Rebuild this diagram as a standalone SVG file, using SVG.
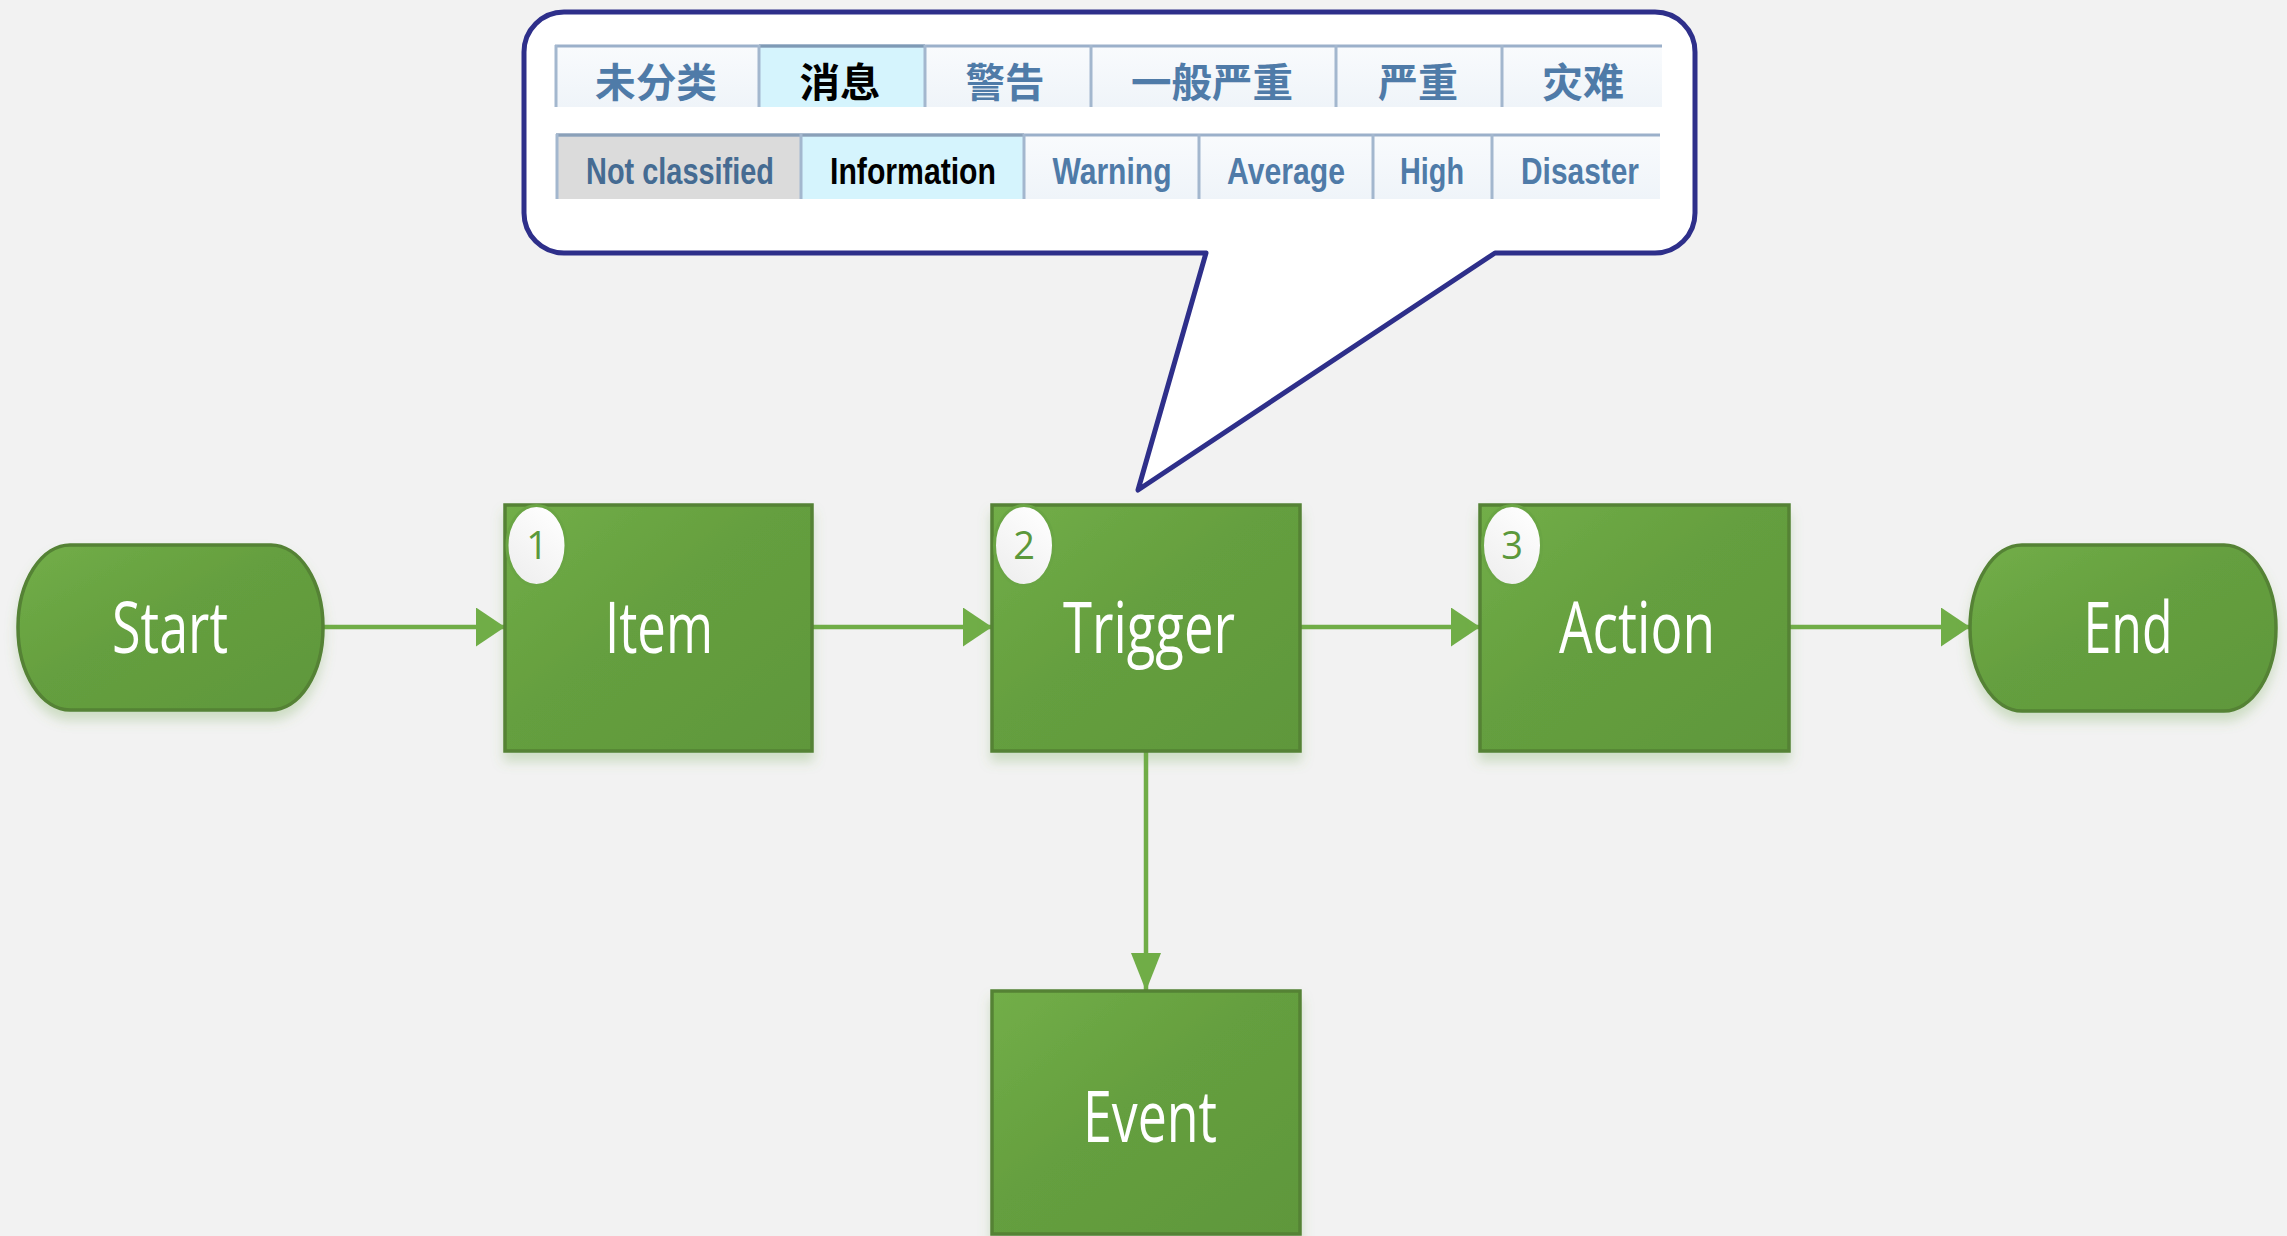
<svg xmlns="http://www.w3.org/2000/svg" width="2287" height="1236" viewBox="0 0 2287 1236">
<defs>
<linearGradient id="gNode" x1="0" y1="0" x2="1" y2="1">
<stop offset="0" stop-color="#72AE48"/>
<stop offset="0.45" stop-color="#659F3F"/>
<stop offset="1" stop-color="#5F973B"/>
</linearGradient>
<linearGradient id="gBadge" x1="0.8" y1="0" x2="0.2" y2="1">
<stop offset="0" stop-color="#FFFFFF"/>
<stop offset="1" stop-color="#EEEEEE"/>
</linearGradient>
<linearGradient id="gTab" x1="0" y1="0" x2="0" y2="1">
<stop offset="0" stop-color="#F9FBFD"/>
<stop offset="1" stop-color="#EFF4F9"/>
</linearGradient>
<filter id="shadow" x="-10%" y="-10%" width="120%" height="130%">
<feDropShadow dx="0" dy="9" stdDeviation="6" flood-color="#6FA64A" flood-opacity="0.28"/>
</filter>
<marker id="arrH" markerUnits="userSpaceOnUse" markerWidth="29" markerHeight="39" refX="29" refY="19.5" orient="auto">
<path d="M0,0 L29,19.5 L0,39 Z" fill="#70AD47"/>
</marker>
<marker id="arrV" markerUnits="userSpaceOnUse" markerWidth="38" markerHeight="30" refX="38" refY="15" orient="auto">
<path d="M0,0 L38,15 L0,30 Z" fill="#70AD47"/>
</marker>
<style>
.node{fill:url(#gNode);stroke:#548235;stroke-width:3.5;filter:url(#shadow)}
.lbl{font-family:"Open Sans","Noto Sans","Liberation Sans",sans-serif;font-weight:400;font-size:72px;fill:#FFFFFF;text-anchor:middle}
.badge{fill:url(#gBadge);stroke:#6AA544;stroke-width:3}
.num{font-family:"Open Sans","Liberation Sans",sans-serif;font-size:38px;fill:#5B983B;text-anchor:middle}
.conn{fill:none;stroke:#70AD47;stroke-width:4.5}
.tab{fill:url(#gTab)}
.sep{stroke:#A3B7CE;stroke-width:3}
.top{stroke:#9BB0CA;stroke-width:3}
.cjk{font-family:"Liberation Sans","Noto Sans CJK SC",sans-serif;font-weight:bold;font-size:40px;fill:#4F7BA8;text-anchor:middle}
.en{font-family:"Liberation Sans",sans-serif;font-weight:bold;font-size:36px;fill:#4F7BA8;text-anchor:middle}
</style>
</defs>
<rect x="0" y="0" width="2287" height="1236" fill="#F2F2F2"/>

<g id="callout">
<path d="M564,12 H1655 A40,40 0 0 1 1695,52 V213 A40,40 0 0 1 1655,253 H1495 L1138,490 L1206,253 H564 A40,40 0 0 1 524,213 V52 A40,40 0 0 1 564,12 Z" fill="#FFFFFF" stroke="#2E2F8A" stroke-width="5" stroke-linejoin="round"/>
<g id="tabs-cn">
<rect class="tab" x="555" y="45" width="1107" height="62"/>
<rect x="759" y="45" width="166" height="62" fill="#D5F4FD"/>
<line class="top" x1="555" y1="46" x2="1662" y2="46"/>
<line x1="759" y1="46" x2="925" y2="46" stroke="#7E9AB5" stroke-width="3"/>
<line class="sep" x1="556" y1="45" x2="556" y2="107"/>
<line class="sep" x1="759" y1="45" x2="759" y2="107"/>
<line class="sep" x1="925" y1="45" x2="925" y2="107"/>
<line class="sep" x1="1091" y1="45" x2="1091" y2="107"/>
<line class="sep" x1="1336" y1="45" x2="1336" y2="107"/>
<line class="sep" x1="1502" y1="45" x2="1502" y2="107"/>
<text class="cjk" x="656" y="97" textLength="122" lengthAdjust="spacingAndGlyphs">未分类</text>
<text class="cjk" x="840" y="97" style="fill:#000000" textLength="81" lengthAdjust="spacingAndGlyphs">消息</text>
<text class="cjk" x="1005" y="97" textLength="79" lengthAdjust="spacingAndGlyphs">警告</text>
<text class="cjk" x="1212" y="97" textLength="162" lengthAdjust="spacingAndGlyphs">一般严重</text>
<text class="cjk" x="1418" y="97" textLength="80" lengthAdjust="spacingAndGlyphs">严重</text>
<text class="cjk" x="1583" y="97" textLength="82" lengthAdjust="spacingAndGlyphs">灾难</text>
</g>
<g id="tabs-en">
<rect class="tab" x="556" y="134" width="1104" height="65"/>
<rect x="556" y="134" width="245" height="65" fill="#DBDBDB"/>
<rect x="801" y="134" width="223" height="65" fill="#D5F4FD"/>
<line class="top" x1="556" y1="135" x2="1660" y2="135"/>
<line x1="556" y1="135" x2="1024" y2="135" stroke="#8AA0B8" stroke-width="3"/>
<line class="sep" x1="557" y1="134" x2="557" y2="199"/>
<line class="sep" x1="801" y1="134" x2="801" y2="199"/>
<line class="sep" x1="1024" y1="134" x2="1024" y2="199"/>
<line class="sep" x1="1199" y1="134" x2="1199" y2="199"/>
<line class="sep" x1="1373" y1="134" x2="1373" y2="199"/>
<line class="sep" x1="1492" y1="134" x2="1492" y2="199"/>
<text class="en" x="680" y="184" style="fill:#456B92" textLength="188" lengthAdjust="spacingAndGlyphs">Not classified</text>
<text class="en" x="913" y="184" style="fill:#000000" textLength="166" lengthAdjust="spacingAndGlyphs">Information</text>
<text class="en" x="1112" y="184" textLength="119" lengthAdjust="spacingAndGlyphs">Warning</text>
<text class="en" x="1286" y="184" textLength="118" lengthAdjust="spacingAndGlyphs">Average</text>
<text class="en" x="1432" y="184" textLength="64" lengthAdjust="spacingAndGlyphs">High</text>
<text class="en" x="1580" y="184" textLength="118" lengthAdjust="spacingAndGlyphs">Disaster</text>
</g>
</g>

<g id="connectors">
<path class="conn" d="M323,627 H505" marker-end="url(#arrH)"/>
<path class="conn" d="M812,627 H992" marker-end="url(#arrH)"/>
<path class="conn" d="M1300,627 H1480" marker-end="url(#arrH)"/>
<path class="conn" d="M1789,627 H1970" marker-end="url(#arrH)"/>
<path class="conn" d="M1146,751 V991" marker-end="url(#arrV)"/>
</g>

<g id="start">
<rect class="node" x="18" y="545" width="305" height="165" rx="52" ry="82"/>
<text class="lbl" x="170" y="653" textLength="116" lengthAdjust="spacingAndGlyphs">Start</text>
</g>
<g id="item">
<rect class="node" x="505" y="505" width="307" height="246"/>
<ellipse class="badge" cx="536.5" cy="545.5" rx="29.5" ry="40"/>
<text class="num" x="537" y="559">1</text>
<text class="lbl" x="659" y="653" textLength="108" lengthAdjust="spacingAndGlyphs">Item</text>
</g>
<g id="trigger">
<rect class="node" x="992" y="505" width="308" height="246"/>
<ellipse class="badge" cx="1024" cy="545.5" rx="29.5" ry="40"/>
<text class="num" x="1024" y="559">2</text>
<text class="lbl" x="1149" y="653" textLength="172" lengthAdjust="spacingAndGlyphs">Trigger</text>
</g>
<g id="action">
<rect class="node" x="1480" y="505" width="309" height="246"/>
<ellipse class="badge" cx="1512" cy="545.5" rx="29.5" ry="40"/>
<text class="num" x="1512" y="559">3</text>
<text class="lbl" x="1637" y="653" textLength="156" lengthAdjust="spacingAndGlyphs">Action</text>
</g>
<g id="end">
<rect class="node" x="1970" y="545" width="306" height="166" rx="52" ry="83"/>
<text class="lbl" x="2128" y="653" textLength="89" lengthAdjust="spacingAndGlyphs">End</text>
</g>
<g id="event">
<rect class="node" x="992" y="991" width="308" height="243"/>
<text class="lbl" x="1150" y="1142" textLength="134" lengthAdjust="spacingAndGlyphs">Event</text>
</g>
</svg>
